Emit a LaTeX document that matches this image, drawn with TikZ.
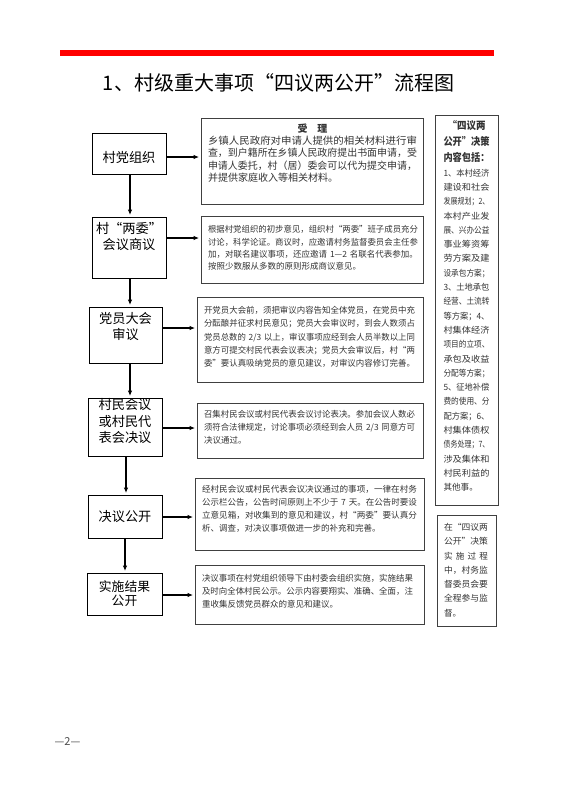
\documentclass[tikz,border=0pt]{standalone}
\usepackage{fontspec}
\setmainfont{Noto Sans CJK SC}
\usetikzlibrary{arrows.meta}
\setlength\parindent{0pt}
\newcommand\jw{10pt}
\newcommand\setjw[1]{\gdef\jw{#1}}
\newcommand\J[1]{\resizebox{\jw}{\height}{#1}}
\begin{document}
\begin{tikzpicture}[x=1pt,y=-1pt,
  lbox/.style={draw=black, line width=0.9pt, inner sep=0pt},
  ltext/.style={align=center, inner sep=0pt, font=\fontsize{13.2}{16.5}\selectfont},
  rbox/.style={draw=black!75, line width=0.8pt, inner sep=0pt},
  rtext/.style={align=left, inner sep=0pt, text=black!80},
  arr/.style={line width=1.1pt, -{Latex[length=5.5pt,width=4.5pt]}, shorten >=1.5pt}]
\useasboundingbox (0,0) rectangle (562,795);
% red rule and title
\draw[red, line width=5.5pt] (60,53) -- (494,53);
\node[inner sep=0pt, font=\fontsize{20}{24}\selectfont] (title) at (278.5,83) {1、村级重大事项“四议两公开”流程图};
% left boxes
\node[lbox, minimum width=74pt, minimum height=41pt] (L1) at (129,153.5) {};
\node[ltext] (L1t) at (129,157) {村党组织};
\node[lbox, minimum width=74pt, minimum height=61pt] (L2) at (129,247.5) {};
\node[ltext] (L2t) at (129,236.5) {村“两委”\\会议商议};
\node[lbox, minimum width=73pt, minimum height=56pt] (L3) at (125.5,335) {};
\node[ltext] (L3t) at (125.5,326.5) {党员大会\\审议};
\node[lbox, minimum width=74pt, minimum height=58pt] (L4) at (125,427) {};
\node[ltext] (L4t) at (125,421.5) {村民会议\\或村民代\\表会决议};
\node[lbox, minimum width=74pt, minimum height=43pt] (L5) at (125,516.5) {};
\node[ltext] (L5t) at (125,517) {决议公开};
\node[lbox, minimum width=75pt, minimum height=42pt] (L6) at (124.5,594) {};
\node[ltext, font=\fontsize{12.8}{14}\selectfont] (L6t) at (124.5,593.5) {实施结果\\公开};
% right boxes
\node[rbox, minimum width=222pt, minimum height=86pt] (R1) at (312,161) {};
\node[rtext, text width=209pt, font=\fontsize{10}{12.3}\selectfont] (R1t) at (312.5,153) {\setjw{209pt}\makebox[209pt]{\bfseries 受\hspace{1em}理}\\
\J{乡镇人民政府对申请人提供的相关材料进行审}\\
\J{查，到户籍所在乡镇人民政府提出书面申请，受}\\
\J{申请人委托，村（居）委会可以代为提交申请，}\\
并提供家庭收入等相关材料。};
\node[rbox, minimum width=222pt, minimum height=67pt] (R2) at (312,249.5) {};
\node[rtext, text width=210pt, font=\fontsize{8.5}{12.3}\selectfont] (R2t) at (313,248) {\setjw{210pt}\J{根据村党组织的初步意见，组织村“两委”班子成员充分}\\
\J{讨论，科学论证。商议时，应邀请村务监督委员会主任参}\\
\J{加，对联名建议事项，还应邀请 1—2 名联名代表参加。}\\
按照少数服从多数的原则形成商议意见。};
\node[rbox, minimum width=226pt, minimum height=85pt] (R3) at (310,339.5) {};
\node[rtext, text width=211pt, font=\fontsize{8.5}{13.3}\selectfont] (R3t) at (309.5,337) {\setjw{211pt}\J{开党员大会前，须把审议内容告知全体党员，在党员中充}\\
\J{分酝酿并征求村民意见；党员大会审议时，到会人数须占}\\
\J{党员总数的 2/3 以上，审议事项应经到会人员半数以上同}\\
\J{意方可提交村民代表会议表决；党员大会审议后，村“两}\\
\J{委”要认真吸纳党员的意见建议，对审议内容修订完善。}};
\node[rbox, minimum width=226pt, minimum height=55pt] (R4) at (310,430.5) {};
\node[rtext, text width=211pt, font=\fontsize{8.5}{12.8}\selectfont] (R4t) at (309.5,427) {\setjw{211pt}\J{召集村民会议或村民代表会议讨论表决。参加会议人数必}\\
\J{须符合法律规定，讨论事项必须经到会人员 2/3 同意方可}\\
决议通过。};
\node[rbox, minimum width=229pt, minimum height=72pt] (R5) at (309.5,514) {};
\node[rtext, text width=215pt, font=\fontsize{8.5}{12.8}\selectfont] (R5t) at (309.5,509) {\setjw{215pt}\J{经村民会议或村民代表会议决议通过的事项，一律在村务}\\
\J{公示栏公告，公告时间原则上不少于 7 天。在公告时要设}\\
\J{立意见箱，对收集到的意见和建议，村“两委”要认真分}\\
析、调查，对决议事项做进一步的补充和完善。};
\node[rbox, minimum width=229pt, minimum height=59pt] (R6) at (309.5,594.5) {};
\node[rtext, text width=211pt, font=\fontsize{8.5}{13}\selectfont] (R6t) at (307.5,591) {\setjw{211pt}\J{决议事项在村党组织领导下由村委会组织实施，实施结果}\\
\J{及时向全体村民公示。公示内容要翔实、准确、全面，注}\\
重收集反馈党员群众的意见和建议。};
% right column
\node[rbox, minimum width=63pt, minimum height=390pt] (C1) at (466.5,310) {};
\node[rtext, text width=46pt, font=\fontsize{8.6}{14.3}\selectfont] (C1t) at (466.5,306) {\setjw{46pt}\makebox[46pt]{\resizebox{38pt}{\height}{\bfseries\fontsize{10.5}{12}\selectfont “四议两}}\\[1.8pt]
\J{\bfseries\fontsize{10.5}{12}\selectfont 公开”决策}\\[1.8pt]
\J{\bfseries\fontsize{10.5}{12}\selectfont 内容包括：}\\
\J{1、本村经济}\\
\J{建设和社会}\\
\J{发展规划；2、}\\
\J{本村产业发}\\
\J{展、兴办公益}\\
\J{事业筹资筹}\\
\J{劳方案及建}\\
\J{设承包方案；}\\
\J{3、土地承包}\\
\J{经营、土流转}\\
\J{等方案；4、}\\
\J{村集体经济}\\
\J{项目的立项、}\\
\J{承包及收益}\\
\J{分配等方案；}\\
\J{5、征地补偿}\\
\J{费的使用、分}\\
\J{配方案；6、}\\
\J{村集体债权}\\
\J{债务处理；7、}\\
\J{涉及集体和}\\
\J{村民利益的}\\
其他事。};
\node[rbox, minimum width=59pt, minimum height=111pt] (C2) at (466.5,570.5) {};
\node[rtext, text width=44pt, font=\fontsize{8.6}{14.3}\selectfont] (C2t) at (466,570) {\setjw{44pt}\J{在“四议两}\\
\J{公开”决策}\\
\makebox[44pt][s]{实\hfill 施\hfill 过\hfill 程}\\
\J{中，村务监}\\
\J{督委员会要}\\
\J{全程参与监}\\
督。};
% page number
\node[inner sep=0pt, text=black!70, font=\fontsize{11}{13}\selectfont] (pg) at (67.5,741) {—2—};
% connectors
\coordinate (h1) at (0,157);
\coordinate (h2) at (0,238);
\coordinate (h3) at (0,328);
\coordinate (h4) at (0,428);
\coordinate (h5) at (0,517);
\coordinate (h6) at (0,595);
\draw[arr] (h1 -| L1.east) -- (h1 -| R1.west);
\draw[arr] (h2 -| L2.east) -- (h2 -| R2.west);
\draw[arr] (h3 -| L3.east) -- (h3 -| R3.west);
\draw[arr] (h4 -| L4.east) -- (h4 -| R4.west);
\draw[arr] (h5 -| L5.east) -- (h5 -| R5.west);
\draw[arr] (h6 -| L6.east) -- (h6 -| R6.west);
\coordinate (va) at (130,0);
\coordinate (vb) at (126,0);
\coordinate (vc) at (125,0);
\draw[arr] (va |- L1.south) -- (va |- L2.north);
\draw[arr] (va |- L2.south) -- (va |- L3.north);
\draw[arr] (va |- L3.south) -- (va |- L4.north);
\draw[arr] (vb |- L4.south) -- (vb |- L5.north);
\draw[arr] (vc |- L5.south) -- (vc |- L6.north);
\end{tikzpicture}
\end{document}
